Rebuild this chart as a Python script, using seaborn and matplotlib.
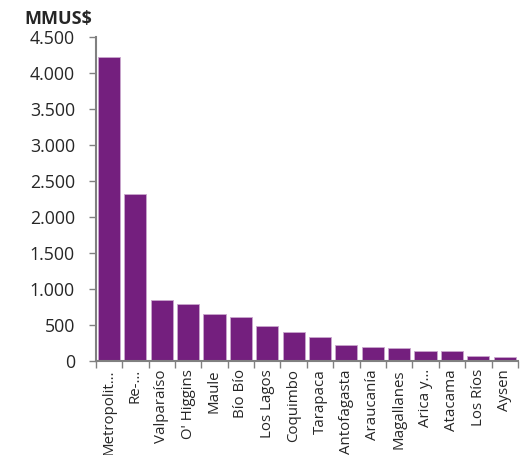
import numpy as np
import pandas as pd
import seaborn as sns
import matplotlib.pyplot as plt
from matplotlib.ticker import FuncFormatter, FixedLocator

regiones = ["Metropolit…", "Re-…", "Valparaíso", "O' Higgins", "Maule", "Bío Bío",
            "Los Lagos", "Coquimbo", "Tarapaca", "Antofagasta", "Araucanía",
            "Magallanes", "Arica y…", "Atacama", "Los Ríos", "Aysen"]
mmusd = [4214, 2311, 843, 787, 648, 607, 486, 399, 329, 222, 190, 176, 139, 130, 61, 47]

df = pd.DataFrame({"Region": regiones, "MMUS$": mmusd})

sns.set_style("white")
plt.rcParams['font.family'] = ['Open Sans', 'DejaVu Sans']

fig = plt.figure(figsize=(5.29, 4.55), dpi=100)
ax = fig.add_axes([0.181, 0.207, 0.798, 0.712])

sns.barplot(data=df, x="Region", y="MMUS$", color="#741F7E", saturation=1,
            width=0.84, edgecolor="#C9A6CD", linewidth=0.6, ax=ax)

ax.set_ylim(0, 4500)
ax.set_xlim(-0.5, len(regiones) - 0.5)
ax.set_yticks(np.arange(0, 4501, 500))
ax.yaxis.set_major_formatter(FuncFormatter(lambda v, p: f"{int(v):,}".replace(",", ".")))
ax.tick_params(axis="y", labelsize=12.8, length=5, width=1, color="#808080",
               direction="out", left=True, pad=10)

# labels in the middle, tick marks between the bars
ax.tick_params(axis="x", which="major", labelsize=10.8, length=0, pad=6)
ax.set_xticks(range(len(regiones)))
ax.set_xticklabels(regiones, rotation=90, va="top")
ax.xaxis.set_minor_locator(FixedLocator(np.arange(-0.5, len(regiones), 1)))
ax.tick_params(axis="x", which="minor", length=5, width=1, color="#808080", bottom=True)

ax.set_xlabel("")
ax.set_ylabel("")
for s in ["top", "right"]:
    ax.spines[s].set_visible(False)
for s in ["left", "bottom"]:
    ax.spines[s].set_color("#808080")
    ax.spines[s].set_linewidth(1.5)

fig.text(0.047, 0.958, "MMUS$", fontsize=13, fontweight="bold", ha="left", va="center")

fig.savefig("out.png", dpi=100)
